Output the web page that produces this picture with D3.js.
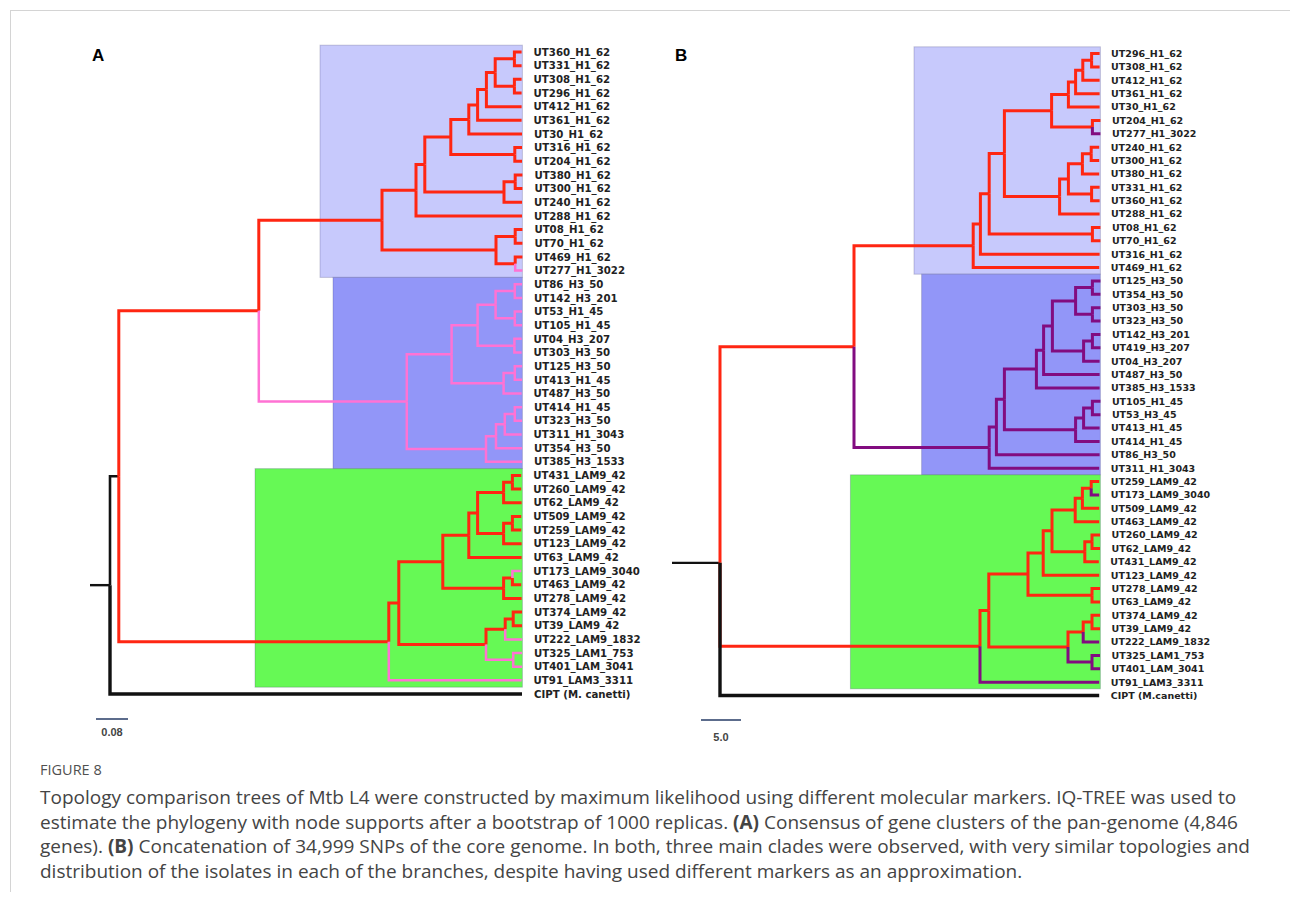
<!DOCTYPE html>
<html>
<head>
<meta charset="utf-8">
<script src="https://cdn.jsdelivr.net/npm/d3@7"></script>
<style>
  body { margin: 0; background: #fff; }
  .tip { font-family: "DejaVu Sans", Verdana, sans-serif; font-weight: bold; fill: #222; }
  .panel { font-family: "Liberation Sans", Arial, sans-serif; font-weight: bold; font-size: 17px; fill: #000; }
  .scale-text { font-family: "Liberation Sans", Arial, sans-serif; font-weight: bold; font-size: 11px; fill: #444; }
  .fig-label { font-family: "Open Sans", sans-serif; font-size: 14.5px; fill: #505050; }
  .caption { font-family: "Open Sans", sans-serif; font-size: 19px; fill: #444; }
</style>
</head>
<body>
<div id="chart"></div>
<script>
// ---- data: trees in Newick, branch lengths ----
// "#x" after a node = branch colour code (inherited by descendants)

// Tree A (pan-genome gene clusters), units of substitutions
const cladeH1A =
  "(" +
    "(" +
      "(" +
        "((((((UT360_H1_62:0.018,UT331_H1_62:0.018):0.048,(UT308_H1_62:0.018,UT296_H1_62:0.018):0.048):0.022," +
        "UT412_H1_62:0.088):0.022,UT361_H1_62:0.11):0.022,UT30_H1_62:0.133):0.045," +
        "(UT316_H1_62:0.018,UT204_H1_62:0.018):0.16" +
      "):0.065," +
      "((UT380_H1_62:0.018,UT300_H1_62:0.018):0.028,UT240_H1_62:0.045):0.198" +
    "):0.022," +
    "UT288_H1_62:0.265" +
  "):0.085," +
  "((UT08_H1_62:0.018,UT70_H1_62:0.018):0.048,(UT469_H1_62:0.018,UT277_H1_3022#p:0.018):0.048):0.285" +
  ")";

const cladeH3A =
  "(" +
    "(" +
      "(" +
        "((UT86_H3_50:0.018,UT142_H3_201:0.018):0.048,(UT53_H1_45:0.018,UT105_H1_45:0.018):0.048):0.045," +
        "(UT04_H3_207:0.018,UT303_H3_50:0.018):0.092" +
      "):0.065," +
      "((UT125_H3_50:0.018,UT413_H1_45:0.018):0.028,UT487_H3_50:0.045):0.13" +
    "):0.112," +
    "(" +
      "(" +
        "((UT414_H1_45:0.018,UT323_H3_50:0.018):0.025,UT311_H1_3043:0.042):0.022," +
        "UT354_H3_50:0.065" +
      "):0.025," +
      "UT385_H3_1533:0.09" +
    "):0.198" +
  ")";

const cladeLamA =
  "(" +
    "(" +
      "(" +
        "(" +
          "(" +
            "((UT431_LAM9_42:0.022,UT260_LAM9_42:0.022):0.022,UT62_LAM9_42:0.045):0.065," +
            "((UT509_LAM9_42:0.022,UT259_LAM9_42:0.022):0.022,UT123_LAM9_42:0.045):0.065" +
          "):0.022," +
          "UT63_LAM9_42:0.132" +
        "):0.065," +
        "((UT173_LAM9_3040#p:0.022,UT463_LAM9_42:0.022):0.022,UT278_LAM9_42:0.045):0.152" +
      "):0.11," +
      "(" +
        "((UT374_LAM9_42:0.022,UT39_LAM9_42:0.022):0.02,UT222_LAM9_1832#p:0.042):0.048," +
        "(UT325_LAM1_753:0.022,UT401_LAM_3041:0.022)#p:0.068" +
      "):0.218" +
    "):0.025," +
    "UT91_LAM3_3311#p:0.332" +
  ")";

const treeA = "(((" + cladeH1A + ":0.308," + cladeH3A + "#p:0.37)#r:0.35," + cladeLamA +
  "#r:0.675)#k:0.022,'CIPT (M. canetti)':1.03)#k:0.05;";

// Tree B (core-genome SNPs)
const cladeH1B =
  "(" +
    "(" +
      "(" +
        "(" +
          "(" +
            "((((UT296_H1_62:1,UT308_H1_62:1):1.1,UT412_H1_62:2.1):0.9,UT361_H1_62:3):0.9,UT30_H1_62:3.9):2.1," +
            "(UT204_H1_62:1,UT277_H1_3022#v:1):5.1" +
          "):5.9," +
          "(" +
            "(((UT240_H1_62:1,UT300_H1_62:1):1.1,UT380_H1_62:2.1):1.75,(UT331_H1_62:1,UT360_H1_62:1):2.9):1.1," +
            "UT288_H1_62:5" +
          "):6.9" +
        "):1.9," +
        "(UT08_H1_62:1,UT70_H1_62:1):12.9" +
      "):1.1," +
      "UT316_H1_62:14.9" +
    "):0.9," +
    "UT469_H1_62:15.75" +
  ")";

const cladeH3B =
  "(" +
    "(" +
      "(" +
        "(" +
          "(" +
            "(" +
              "((UT125_H3_50:1,UT354_H3_50:1):2.1,(UT303_H3_50:1,UT323_H3_50:1):2.1):2.9," +
              "((UT142_H3_201:1,UT419_H3_207:1):1.1,UT04_H3_207:2):3.9" +
            "):1.1," +
            "UT487_H3_50:7" +
          "):0.9," +
          "UT385_H3_1533:7.9" +
        "):4," +
        "(((UT105_H1_45:1,UT53_H3_45:1):1.1,UT413_H1_45:2):1,UT414_H1_45:3):8.9" +
      "):1," +
      "UT86_H3_50:12.9" +
    "):0.9," +
    "UT311_H1_3043:13.75" +
  ")";

const cladeLamB =
  "(" +
    "(" +
      "(" +
        "(" +
          "(" +
            "(((UT259_LAM9_42:1,UT173_LAM9_3040#v:1):1.1,UT509_LAM9_42:2.1):0.9,UT463_LAM9_42:3):2.9," +
            "((UT260_LAM9_42:1,UT62_LAM9_42:1):0.9,UT431_LAM9_42:1.75):4.1" +
          "):1.1," +
          "UT123_LAM9_42:7" +
        "):1.9," +
        "(UT278_LAM9_42:1,UT63_LAM9_42:1):8" +
      "):4.9," +
      "(" +
        "((UT374_LAM9_42:1,UT39_LAM9_42:1):1.1,UT222_LAM9_1832#v:2):1.9," +
        "(UT325_LAM1_753:1,UT401_LAM_3041:1)#v:3" +
      "):9.9" +
    "):1.1," +
    "UT91_LAM3_3311#v:14.9" +
  ")";

const treeB = "((" + cladeH1B + ":14.9," + cladeH3B + "#v:16.9)#r:16.75," + cladeLamB +
  "#r:32.5,'CIPT (M.canetti)':47.4)#k:6;";

// highlighted clades: [first leaf, last leaf, start depth, fill]
const highlightA = [
  ["UT360_H1_62", "UT277_H1_3022", 0.525, "#c7c9fc"],
  ["UT86_H3_50", "UT385_H3_1533", 0.5575, "#9296f8"],
  ["UT431_LAM9_42", "UT91_LAM3_3311", 0.3625, "#66f955"]
];
const highlightB = [
  ["UT296_H1_62", "UT469_H1_62", 24.25, "#c7c9fc"],
  ["UT125_H3_50", "UT311_H1_3043", 25.2, "#9296f8"],
  ["UT259_LAM9_42", "UT91_LAM3_3311", 16.3, "#66f955"]
];

const scaleBarA = { value: 0.08, label: "0.08" };
const scaleBarB = { value: 5.0, label: "5.0" };

const captionLines = [
  "Topology comparison trees of Mtb L4 were constructed by maximum likelihood using different molecular markers. IQ-TREE was used to",
  "estimate the phylogeny with node supports after a bootstrap of 1000 replicas. **(A)** Consensus of gene clusters of the pan-genome (4,846",
  "genes). **(B)** Concatenation of 34,999 SNPs of the core genome. In both, three main clades were observed, with very similar topologies and",
  "distribution of the isolates in each of the branches, despite having used different markers as an approximation."
];

const branchColors = { r: "#ff2612", p: "#ff72d4", v: "#820c80", k: "#111111" };
const branchWidths = { r: 3, p: 2.5, v: 3, k: 2.6 };

// ---- newick parser ----
function parseNewick(s) {
  let i = 0;
  function readName() {
    if (s[i] === "'") {
      const j = s.indexOf("'", i + 1);
      const name = s.slice(i + 1, j);
      i = j + 1;
      return name;
    }
    let start = i;
    while (i < s.length && !",():;#".includes(s[i])) i++;
    return s.slice(start, i).trim();
  }
  function node() {
    const n = { children: [], name: "", len: 0, tag: null };
    if (s[i] === "(") {
      i++;
      do { n.children.push(node()); } while (s[i++] === ",");
    }
    n.name = readName();
    if (s[i] === "#") { i++; n.tag = s[i++]; }
    if (s[i] === ":") {
      i++;
      const m = s.slice(i).match(/^[-0-9.eE]+/);
      n.len = parseFloat(m[0]);
      i += m[0].length;
    }
    return n;
  }
  return node();
}

const width = 1290, height = 898;
const svg = d3.select("#chart").append("svg")
  .attr("width", width)
  .attr("height", height);

svg.append("rect").attr("width", width).attr("height", height).attr("fill", "#fff");

// frame lines of the figure page
svg.append("line").attr("x1", 10).attr("x2", width).attr("y1", 10.5).attr("y2", 10.5)
  .attr("stroke", "#d4d4d4").attr("stroke-width", 1);
svg.append("line").attr("x1", 10.5).attr("x2", 10.5).attr("y1", 10).attr("y2", 892)
  .attr("stroke", "#d4d4d4").attr("stroke-width", 1);

function drawTree(newick, opt) {
  const g = svg.append("g");
  const root = d3.hierarchy(parseNewick(newick), d => d.children.length ? d.children : null);

  root.each(d => {
    d.dist = d.parent ? d.parent.dist + d.data.len : 0;
    d.color = d.data.tag || (d.parent ? d.parent.color : "k");
  });

  const leaves = root.leaves();
  const maxDist = d3.max(leaves, d => d.dist);
  const x = d3.scaleLinear().domain([0, maxDist]).range([opt.rootX, opt.rootX + maxDist * opt.ppu]);
  const y = d3.scalePoint()
    .domain(leaves.map(d => d.data.name))
    .range([opt.y0, opt.y0 + opt.step * (leaves.length - 1)]);

  root.eachAfter(d => {
    d.x = x(d.dist);
    d.y = d.children ? d3.mean(d.children, c => c.y) : y(d.data.name);
  });

  const tipX = d3.max(leaves, d => d.x);

  // clade highlight boxes
  g.selectAll("rect.clade")
    .data(opt.highlights)
    .join("rect")
    .attr("class", "clade")
    .attr("x", d => x(d[2]))
    .attr("y", d => y(d[0]) - opt.step / 2)
    .attr("width", d => tipX - x(d[2]))
    .attr("height", d => y(d[1]) - y(d[0]) + opt.step)
    .attr("fill", d => d[3])
    .attr("stroke", "rgba(60,60,110,0.25)")
    .attr("stroke-width", 1);

  // root stem
  g.append("line")
    .attr("x1", x(0) - root.data.len * opt.ppu)
    .attr("x2", x(0))
    .attr("y1", root.y).attr("y2", root.y)
    .attr("stroke", branchColors[root.color])
    .attr("stroke-width", 2.4);

  // branches (elbow: vertical from parent, then horizontal)
  g.selectAll("path.branch")
    .data(root.descendants().slice(1))
    .join("path")
    .attr("class", "branch")
    .attr("d", d => `M${d.parent.x},${d.parent.y}V${d.y}H${d.x}`)
    .attr("fill", "none")
    .attr("stroke", d => branchColors[d.color])
    .attr("stroke-width", d => d.data.name.startsWith("CIPT") ? 3.4 : branchWidths[d.color])
    .attr("stroke-linejoin", "miter");

  // tip labels
  g.selectAll("text.tip")
    .data(leaves)
    .join("text")
    .attr("class", "tip")
    .attr("x", d => d.x + opt.labelGap)
    .attr("y", d => d.y)
    .attr("dy", "0.36em")
    .style("font-size", opt.fontSize + "px")
    .text(d => d.data.name);

  // scale bar
  const bx = opt.scaleBar.x;
  const bw = x(opt.scaleBar.value) - x(0);
  g.append("line")
    .attr("x1", bx).attr("x2", bx + bw)
    .attr("y1", opt.scaleBar.y).attr("y2", opt.scaleBar.y)
    .attr("stroke", "#5c6c8c").attr("stroke-width", 2);
  g.append("text")
    .attr("class", "scale-text")
    .attr("x", bx + bw / 2)
    .attr("y", opt.scaleBar.y + opt.scaleBar.textDy)
    .attr("text-anchor", "middle")
    .text(opt.scaleBar.label);

  // panel letter
  g.append("text")
    .attr("class", "panel")
    .attr("x", opt.letter.x)
    .attr("y", opt.letter.y)
    .text(opt.letter.text);
}

drawTree(treeA, {
  rootX: 110, ppu: 400, y0: 52, step: 13.66,
  labelGap: 12, fontSize: 10.2,
  highlights: highlightA,
  scaleBar: { x: 96, y: 719, textDy: 17, value: scaleBarA.value, label: scaleBarA.label },
  letter: { x: 92, y: 61, text: "A" }
});

drawTree(treeB, {
  rootX: 720, ppu: 8, y0: 53.5, step: 13.375,
  labelGap: 11.5, fontSize: 9.5,
  highlights: highlightB,
  scaleBar: { x: 701, y: 720, textDy: 21, value: scaleBarB.value, label: scaleBarB.label },
  letter: { x: 675, y: 61, text: "B" }
});

// caption
svg.append("text")
  .attr("class", "fig-label")
  .attr("x", 40).attr("y", 775)
  .text("FIGURE 8");

const cap = svg.append("text").attr("class", "caption");
captionLines.forEach((line, li) => {
  const parts = line.split(/(\*\*.*?\*\*)/).filter(p => p.length);
  parts.forEach((p, pi) => {
    const bold = p.startsWith("**");
    const t = cap.append("tspan")
      .text(bold ? p.slice(2, -2) : p)
      .style("font-weight", bold ? "bold" : null);
    if (pi === 0) t.attr("x", 40).attr("y", 804 + li * 24.6);
  });
});
</script>
</body>
</html>
